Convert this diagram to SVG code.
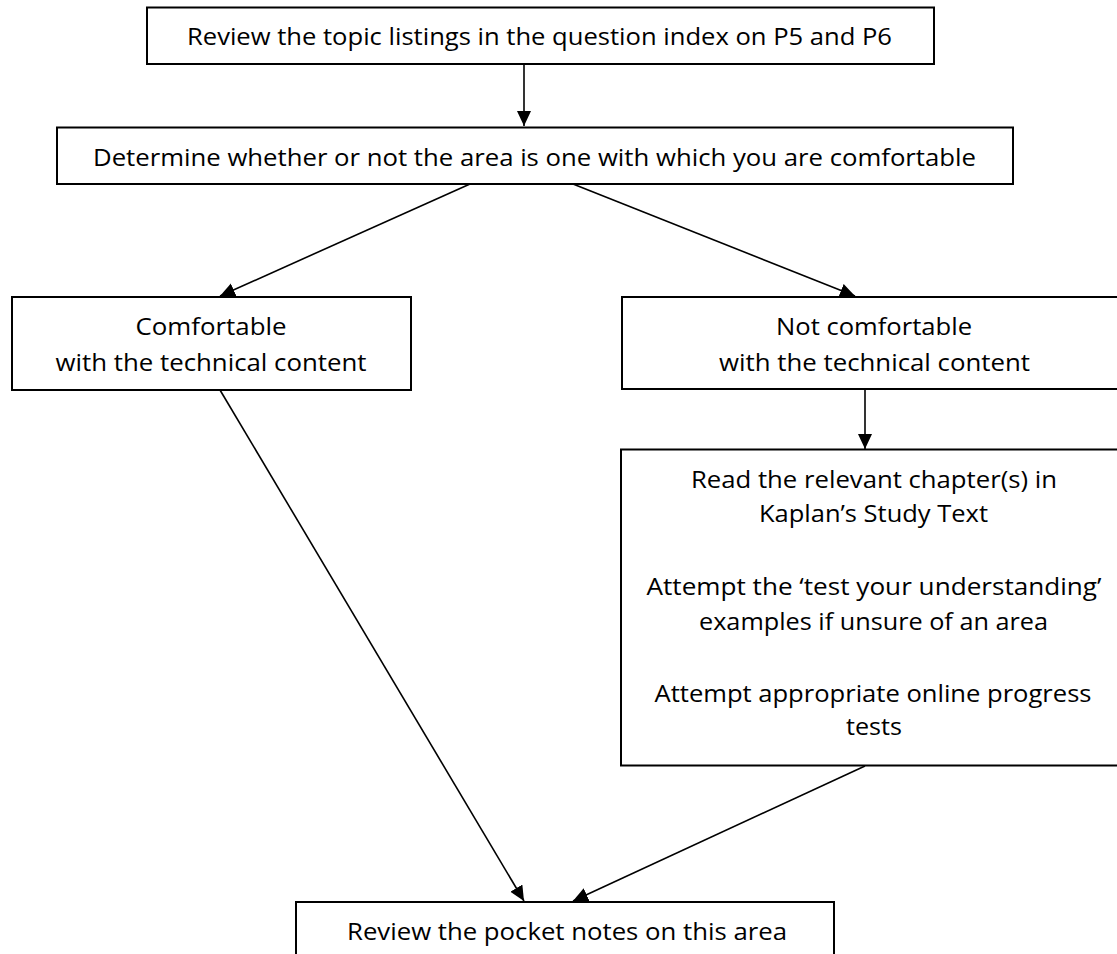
<svg xmlns="http://www.w3.org/2000/svg" width="1117" height="954" viewBox="0 0 1117 954">
  <style>
    .box { fill: #ffffff; stroke: #000000; stroke-width: 2; }
    .lbl { font-family: "Open Sans", "Noto Sans", "Liberation Sans", sans-serif; font-size: 23px; fill: #000000; text-anchor: middle; }
    .conn { stroke: #000000; stroke-width: 1.6; fill: none; marker-end: url(#arrow); }
  </style>
  <defs>
    <marker id="arrow" markerUnits="userSpaceOnUse" markerWidth="16" markerHeight="15" refX="15" refY="7" orient="auto">
      <path d="M0,0 L15,7 L0,14 z" fill="#000000"/>
    </marker>
  </defs>
  <rect x="0" y="0" width="1117" height="954" fill="#ffffff"/>

  <g id="connectors">
    <line class="conn" x1="524" y1="64" x2="524" y2="126"/>
    <line class="conn" x1="470" y1="184" x2="220" y2="296"/>
    <line class="conn" x1="573" y1="184" x2="855" y2="296"/>
    <line class="conn" x1="220" y1="390" x2="524" y2="901"/>
    <line class="conn" x1="865" y1="389" x2="865" y2="449"/>
    <line class="conn" x1="865" y1="766" x2="573" y2="901"/>
  </g>

  <g id="node-review-topics">
    <rect class="box" x="147" y="7.5" width="787" height="56.5"/>
    <text class="lbl" x="539.5" y="45" textLength="705" lengthAdjust="spacingAndGlyphs">Review the topic listings in the question index on P5 and P6</text>
  </g>

  <g id="node-determine">
    <rect class="box" x="57" y="127.5" width="956" height="56.5"/>
    <text class="lbl" x="534.5" y="165.5" textLength="883" lengthAdjust="spacingAndGlyphs">Determine whether or not the area is one with which you are comfortable</text>
  </g>

  <g id="node-comfortable">
    <rect class="box" x="12" y="297" width="399" height="93"/>
    <text class="lbl" x="211" y="334.5" textLength="151" lengthAdjust="spacingAndGlyphs">Comfortable</text>
    <text class="lbl" x="211" y="370.5" textLength="311" lengthAdjust="spacingAndGlyphs">with the technical content</text>
  </g>

  <g id="node-not-comfortable">
    <rect class="box" x="622" y="297" width="505" height="92"/>
    <text class="lbl" x="874" y="334.5" textLength="196" lengthAdjust="spacingAndGlyphs">Not comfortable</text>
    <text class="lbl" x="874.5" y="370.5" textLength="311" lengthAdjust="spacingAndGlyphs">with the technical content</text>
  </g>

  <g id="node-study">
    <rect class="box" x="621" y="449.5" width="506" height="316"/>
    <text class="lbl" x="874" y="488" textLength="366" lengthAdjust="spacingAndGlyphs">Read the relevant chapter(s) in</text>
    <text class="lbl" x="873.5" y="522" textLength="229" lengthAdjust="spacingAndGlyphs">Kaplan’s Study Text</text>
    <text class="lbl" x="874" y="595" textLength="455" lengthAdjust="spacingAndGlyphs">Attempt the ‘test your understanding’</text>
    <text class="lbl" x="873.5" y="630" textLength="349" lengthAdjust="spacingAndGlyphs">examples if unsure of an area</text>
    <text class="lbl" x="873" y="701.5" textLength="437" lengthAdjust="spacingAndGlyphs">Attempt appropriate online progress</text>
    <text class="lbl" x="874" y="735" textLength="56" lengthAdjust="spacingAndGlyphs">tests</text>
  </g>

  <g id="node-pocket-notes">
    <rect class="box" x="296" y="902" width="538" height="70"/>
    <text class="lbl" x="567" y="940" textLength="440" lengthAdjust="spacingAndGlyphs">Review the pocket notes on this area</text>
  </g>
</svg>
